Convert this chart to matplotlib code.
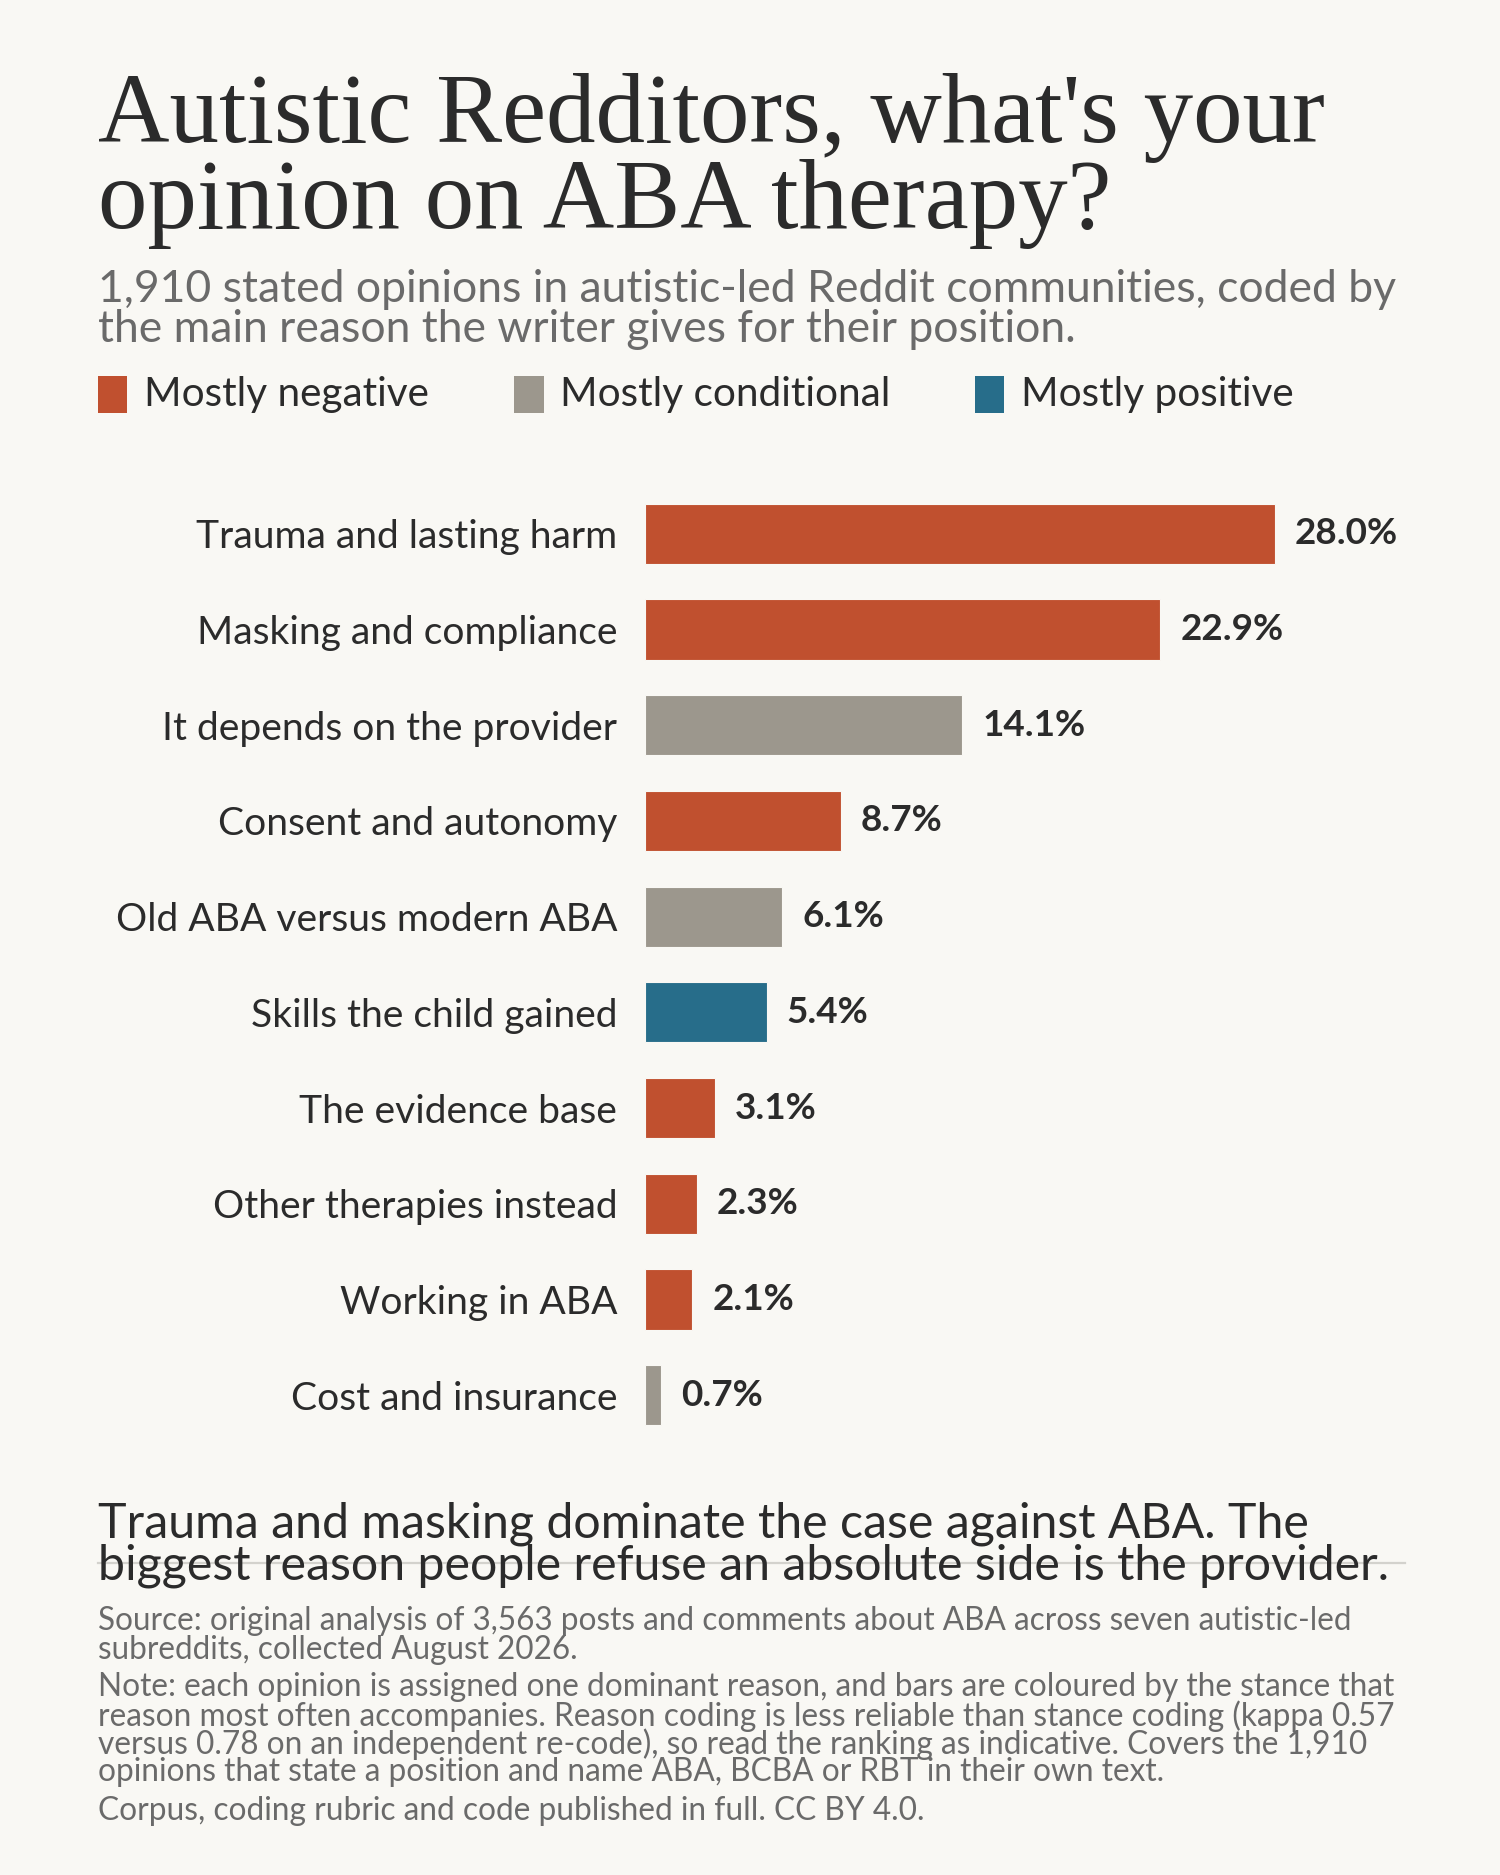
import matplotlib
matplotlib.use("Agg")
import matplotlib.pyplot as plt
from matplotlib.patches import Rectangle
from matplotlib.lines import Line2D

# ---------------- data ----------------
reasons = [
    "Trauma and lasting harm",
    "Masking and compliance",
    "It depends on the provider",
    "Consent and autonomy",
    "Old ABA versus modern ABA",
    "Skills the child gained",
    "The evidence base",
    "Other therapies instead",
    "Working in ABA",
    "Cost and insurance",
]
shares = [28.0, 22.9, 14.1, 8.7, 6.1, 5.4, 3.1, 2.3, 2.1, 0.7]
stances = ["negative", "negative", "conditional", "negative", "conditional",
           "positive", "negative", "negative", "negative", "conditional"]
stance_keys = ["negative", "conditional", "positive"]
stance_labels = ["Mostly negative", "Mostly conditional", "Mostly positive"]

title_lines = ["Autistic Redditors, what's your", "opinion on ABA therapy?"]
subtitle_lines = ["1,910 stated opinions in autistic-led Reddit communities, coded by",
                  "the main reason the writer gives for their position."]
takeaway_lines = ["Trauma and masking dominate the case against ABA. The",
                  "biggest reason people refuse an absolute side is the provider."]
source_lines = ["Source: original analysis of 3,563 posts and comments about ABA across seven autistic-led",
                "subreddits, collected August 2026."]
note_lines = ["Note: each opinion is assigned one dominant reason, and bars are coloured by the stance that",
              "reason most often accompanies. Reason coding is less reliable than stance coding (kappa 0.57",
              "versus 0.78 on an independent re-code), so read the ranking as indicative. Covers the 1,910",
              "opinions that state a position and name ABA, BCBA or RBT in their own text."]
corpus_line = "Corpus, coding rubric and code published in full. CC BY 4.0."

# ---------------- style ----------------
BG = "#F9F8F4"
DARK = "#2B2B2B"
GREY_TXT = "#6A6A6A"
colors = {"negative": "#C0502F", "conditional": "#9C978D", "positive": "#276D8A"}
SANS = ["Lato", "DejaVu Sans"]
SERIF = ["Liberation Serif", "DejaVu Serif"]

W, H = 1500, 1875
fig = plt.figure(figsize=(15, 18.75), dpi=100, facecolor=BG)
renderer = fig.canvas.get_renderer()


def fx(x):
    return x / W


def fy(y):
    return 1 - y / H


def fit(texts, ref, target_w, iters=3):
    for _ in range(iters):
        w = ref.get_window_extent(renderer).width
        s = ref.get_fontsize() * target_w / w
        for t in texts:
            t.set_fontsize(s)


def block(lines, x, ys, target_w, fit_idx=0, **kw):
    ts = [fig.text(fx(x), fy(y), ln, va="baseline", ha="left", **kw) for ln, y in zip(lines, ys)]
    fit(ts, ts[fit_idx], target_w)
    return ts


# Title
block(title_lines, 98, [141.7, 228], 1227, family=SERIF, color=DARK, fontsize=70)
# Subtitle
block(subtitle_lines, 98, [301.7, 341.7], 1301, family=SANS, color=GREY_TXT, fontsize=31)

# Legend
leg_sq_x = [97.6, 514, 975]
leg_txt = []
for k, lab, sx in zip(stance_keys, stance_labels, leg_sq_x):
    fig.patches.append(Rectangle((fx(sx), fy(413.3)), 29.5 / W, 37.6 / H,
                                 transform=fig.transFigure, facecolor=colors[k],
                                 edgecolor="none", figure=fig))
    leg_txt.append(fig.text(fx(sx + 46), fy(406), lab, va="baseline", ha="left",
                            family=SANS, color=DARK, fontsize=29))
fit(leg_txt, leg_txt[0], 285)

# ---------------- bars ----------------
px_per_unit = 22.5
ax_left, ax_right = 645, 1400
ax_top, ax_bot = 486, 1443
ax = fig.add_axes([fx(ax_left), fy(ax_bot), (ax_right - ax_left) / W, (ax_bot - ax_top) / H])
ax.set_facecolor("none")
ypos = list(range(len(reasons)))
ax.barh(ypos, shares, height=0.63, color=[colors[s] for s in stances],
        edgecolor=BG, linewidth=0.8)
ax.set_xlim(0, (ax_right - ax_left) / px_per_unit)
ax.set_ylim(len(reasons) - 0.5, -0.5)
for sp in ax.spines.values():
    sp.set_visible(False)
ax.set_xticks([])
ax.set_yticks(ypos)
ax.set_yticklabels(reasons, family=SANS, color=DARK, fontsize=27)
ax.tick_params(axis="y", length=0, pad=20)
fit(ax.get_yticklabels(), ax.get_yticklabels()[0], 421)

vals = []
for y, v in zip(ypos, shares):
    vals.append(ax.annotate(f"{v:.1f}%", xy=(v, y), xytext=(14.4, 0), textcoords="offset points",
                            va="center", ha="left", family=SANS, fontweight="bold",
                            color=DARK, fontsize=26))
fit(vals, vals[0], 103)

# ---------------- takeaway & notes ----------------
fig.add_artist(Line2D([fx(98), fx(1405)], [fy(1563.3)] * 2, color="#D3D2CD", lw=1.6, zorder=0))
block(takeaway_lines, 98, [1537.3, 1580], 1290, fit_idx=1, family=SANS, color=DARK, fontsize=34, zorder=2)
block(source_lines, 98, [1630, 1659], 1256, family=SANS, color=GREY_TXT, fontsize=17)
notes = block(note_lines, 98, [1696, 1726, 1754, 1781], 1297, family=SANS, color=GREY_TXT, fontsize=17)
fig.text(fx(98), fy(1820), corpus_line, va="baseline", ha="left", family=SANS,
         color=GREY_TXT, fontsize=notes[0].get_fontsize())

fig.savefig("out.png", dpi=100, facecolor=BG)
